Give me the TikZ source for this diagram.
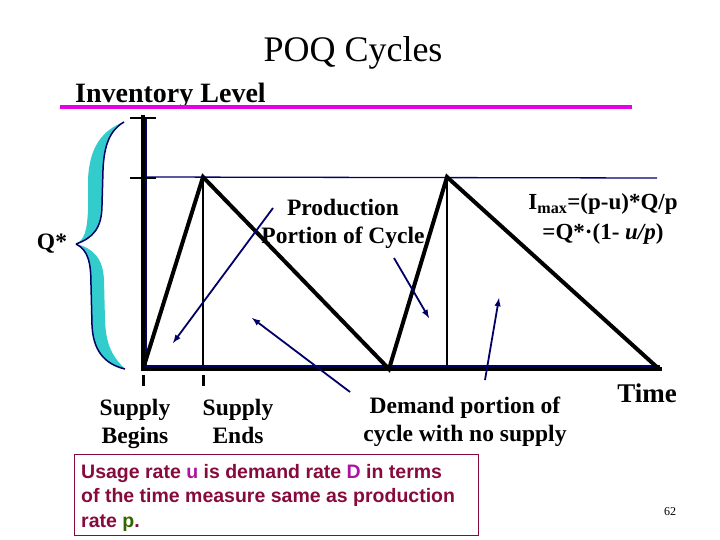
\documentclass[tikz,border=0pt]{standalone}
\usepackage{fontspec}
\setmainfont{Liberation Serif}
\newfontfamily\notefont{Liberation Sans}
\usetikzlibrary{positioning, arrows}
\definecolor{braceCyan}{RGB}{51,204,204}
\definecolor{axisNavy}{RGB}{0,0,102}
\definecolor{ruleMagenta}{RGB}{230,0,230}
\definecolor{noteRed}{RGB}{135,10,60}
\definecolor{notePurple}{RGB}{170,20,160}
\definecolor{noteGreen}{RGB}{50,100,0}

\begin{document}
\begin{tikzpicture}[x=1pt,y=-1pt,
    saw/.style={line width=4pt},
    guide/.style={line width=1.3pt},
    pointer/.style={->,>=latex,line width=1.8pt,color=axisNavy},
    lbl/.style={font=\bfseries\fontsize{23.5}{28}\selectfont,align=center,inner sep=0pt}]
  \useasboundingbox (0,0) rectangle (720,540);

  \node (title) at (353,53) {\fontsize{36}{40}\selectfont POQ Cycles};
  \node[anchor=base west,inner sep=0pt,font=\bfseries\fontsize{28}{32}\selectfont] (ylabel) at (75,103) {Inventory Level};
  \draw[ruleMagenta,line width=4pt] (60,107) -- (632,107);

  % corners of the saw
  \coordinate (o) at (143,369);
  \coordinate (top1) at (203,177);
  \coordinate (low1) at (389,369);
  \coordinate (top2) at (447,177);
  \coordinate (end) at (659,369);

  % axes and guides
  \draw[axisNavy,guide] (o |- top1) -- (657,178);
  \draw[guide] (top1) -- (top1 |- o);
  \draw[guide] (top2) -- (top2 |- o);
  \draw[axisNavy,line width=2pt] (146,117) -- (146,366) -- (660,366);
  \draw[line width=4pt] (143,115) -- (o) -- (662,369);
  \foreach \y in {118,178}
    \draw[line width=2.5pt] (130,\y) -- (156,\y);
  \foreach \x in {143,203}
    \draw[line width=3pt] (\x,375) -- (\x,386);
  \draw[saw] (o) -- (top1) -- (low1) -- (top2) -- (end);

  % brace
  \fill[braceCyan] (124,122) .. controls (102,130) and (89,148) .. (88,180) -- (88,210)
    .. controls (87,232) and (84,240) .. (76,244)
    .. controls (93,238) and (102,228) .. (102,205) -- (103,170)
    .. controls (104,145) and (110,130) .. (124,122) -- cycle;
  \fill[braceCyan] (76,244) .. controls (88,250) and (91,262) .. (91,285) -- (92,325)
    .. controls (93,350) and (104,364) .. (125,369)
    .. controls (112,356) and (106,345) .. (105,320) -- (104,280)
    .. controls (103,258) and (93,248) .. (76,244) -- cycle;
  \draw[axisNavy,line width=1.5pt] (76,244) .. controls (93,238) and (102,228) .. (102,205) -- (103,170)
    .. controls (104,145) and (110,130) .. (124,122);
  \draw[axisNavy,line width=1.5pt] (76,244) .. controls (88,250) and (91,262) .. (91,285) -- (92,325)
    .. controls (93,350) and (104,364) .. (125,369);

  % labels
  \node[lbl] (qstar) at (52,244) {Q*};
  \node[lbl] (prod) at (343,224) {Production\\Portion of Cycle};
  \node[lbl,font=\bfseries\fontsize{23}{30}\selectfont] (imax) at (603,219)
    {I\textsubscript{max}=(p-u)*Q/p\\=Q*·(1- \textit{u/p})};
  \node[lbl,anchor=north] (begins) at (135,399) {Supply\\Begins};
  \node[lbl,anchor=north] (ends) at (238,399) {Supply\\Ends};
  \node[lbl,anchor=north] (demand) at (465,397) {Demand portion of\\cycle with no supply};
  \node[lbl,font=\bfseries\fontsize{27}{30}\selectfont] (time) at (647,393) {Time};

  % pointers
  \coordinate (a1) at (273,208); \coordinate (b1) at (173,343);
  \coordinate (a2) at (394,258); \coordinate (b2) at (429,318);
  \coordinate (a3) at (485,380); \coordinate (b3) at (499,298);
  \coordinate (a4) at (350,392); \coordinate (b4) at (252,318);
  \path[pointer] (a1) edge (b1)
    (a2) edge (b2)
    (a3) edge (b3)
    (a4) edge (b4);

  % note box
  \draw[noteRed,line width=1pt] (74,454) rectangle (478,535);
  \node[text=noteRed,anchor=north west,align=left,inner sep=0pt,
    font=\notefont\bfseries\fontsize{19.5}{24.5}\selectfont] (note) at (81,464)
    {Usage rate \textcolor{notePurple}{u} is demand rate \textcolor{notePurple}{D} in terms\\
     of the time measure same as production\\
     rate \textcolor{noteGreen}{p}.};

  \node (page) at (670,512) {\fontsize{12}{14}\selectfont 62};
\end{tikzpicture}
\end{document}
